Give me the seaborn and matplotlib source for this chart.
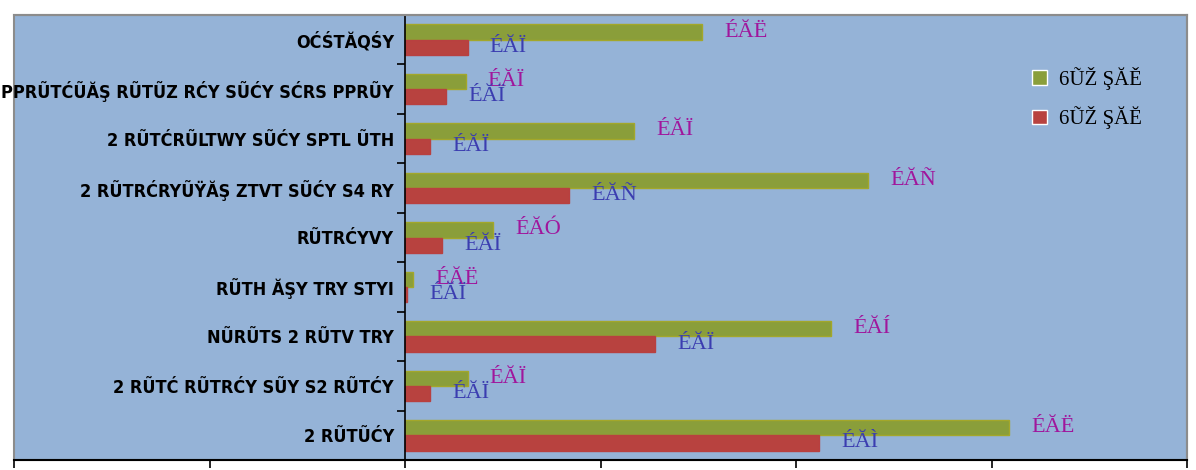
import matplotlib
matplotlib.use("Agg")
import matplotlib.pyplot as plt
from matplotlib.patches import Rectangle
import seaborn as sns
import pandas as pd
import numpy as np

categories = [
    "OĆŚTĂQŚY",
    "PPRŨTĆŨĂŞ RŨTŨZ RĆY SŨĆY SĆRS PPRŨY",
    "2 RŨTĆRŨLTWY SŨĆY SPTL ŨTH",
    "2 RŨTRĆRYŨŸĂŞ ZTVT SŨĆY S4 RY",
    "RŨTRĆYVY",
    "RŨTH ĂŞY TRY STYI",
    "NŨRŨTS 2 RŨTV TRY",
    "2 RŨTĆ RŨTRĆY SŨY S2 RŨTĆY",
    "2 RŨTŨĆY",
]
series_names = ["6ŨŽ ŞĂĚ", "6ŨŽ ŞĂĔ"]
values_a = [15.2, 3.1, 11.7, 23.7, 4.5, 0.4, 21.8, 3.2, 30.9]
values_b = [3.2, 2.1, 1.3, 8.4, 1.9, 0.1, 12.8, 1.3, 21.2]
labels_a = ["ÉĂË", "ÉĂÏ", "ÉĂÏ", "ÉĂÑ", "ÉĂÓ", "ÉĂË", "ÉĂÍ", "ÉĂÏ", "ÉĂË"]
labels_b = ["ÉĂÏ", "ÉĂÏ", "ÉĂÏ", "ÉĂÑ", "ÉĂÏ", "ÉĂÏ", "ÉĂÏ", "ÉĂÏ", "ÉĂÌ"]
x_ticks = [-20, -10, 0, 10, 20, 30, 40]

df = pd.DataFrame({
    "cat": categories * 2,
    "val": values_a + values_b,
    "series": [series_names[0]] * len(categories) + [series_names[1]] * len(categories),
})

sns.set_theme(style="white")
plt.rcParams['font.family'] = ['DejaVu Sans']

fig = plt.figure(figsize=(11.96, 4.70), dpi=100)
ax = fig.add_axes([14/1196, 10/470, 1173/1196, 445/470])
ax.set_facecolor("#95B3D7")

green = "#8A9E3A"
red = "#B8423F"
sns.barplot(data=df, y="cat", x="val", hue="series", orient="h",
            palette=[green, red], width=0.62, ax=ax, legend=True,
            saturation=1)
for i, p in enumerate(ax.patches[:len(categories) * 2]):
    p.set_edgecolor("#A3A72A" if i < len(categories) else "#B84040")
    p.set_linewidth(1.0)

ax.set_xlim(-20, 40)
ax.set_ylim(len(categories) - 0.5, -0.5)
ax.set_xticks(x_ticks)
ax.set_xticklabels([])
ax.set_xlabel("")
ax.set_ylabel("")

ax.spines['left'].set_position(('data', 0))
ax.spines['left'].set_color("black")
ax.spines['left'].set_linewidth(1.2)
ax.spines['bottom'].set_color("black")
ax.spines['bottom'].set_linewidth(1.5)
for s in ['top', 'right']:
    ax.spines[s].set_color("#8C8C8C")
    ax.spines[s].set_linewidth(1.5)
ax.add_patch(Rectangle((0, 0), 1, 1, transform=ax.transAxes, fill=False,
                       edgecolor="#8C8C8C", linewidth=1.5, clip_on=False, zorder=0.5))

ax.tick_params(axis='x', which='major', direction='out', length=6, width=1.2,
               color="black", bottom=True)
ax.tick_params(axis='y', which='major', length=0, pad=8)
ax.set_yticks(np.arange(len(categories) + 1) - 0.5, minor=True)
ax.tick_params(axis='y', which='minor', direction='out', length=6, width=1.2,
               color="black", left=True)
for t in ax.get_yticklabels():
    t.set_fontsize(13)
    t.set_fontweight("bold")
    t.set_fontstretch("condensed")
    t.set_color("black")

ser_fonts = ['Liberation Serif', 'DejaVu Serif']
for i, (va, vb) in enumerate(zip(values_a, values_b)):
    ax.annotate(labels_a[i], xy=(va, i - 0.155), xytext=(16, 0),
                textcoords="offset points", va="center", ha="left",
                color="#A0169C", fontsize=16, family=ser_fonts)
    ax.annotate(labels_b[i], xy=(vb, i + 0.155), xytext=(16, 0),
                textcoords="offset points", va="center", ha="left",
                color="#3B3DB0", fontsize=16, family=ser_fonts)

leg = ax.legend(loc="upper left", bbox_to_anchor=(1033/1196 - 14/1196, 1 - 33/445),
                bbox_transform=ax.transAxes, frameon=False, handlelength=0.7,
                handleheight=0.7, handletextpad=0.6, labelspacing=0.8,
                prop={'family': ser_fonts, 'size': 15})
for t in leg.get_texts():
    t.set_color("black")

fig.savefig("out.png", dpi=100)
